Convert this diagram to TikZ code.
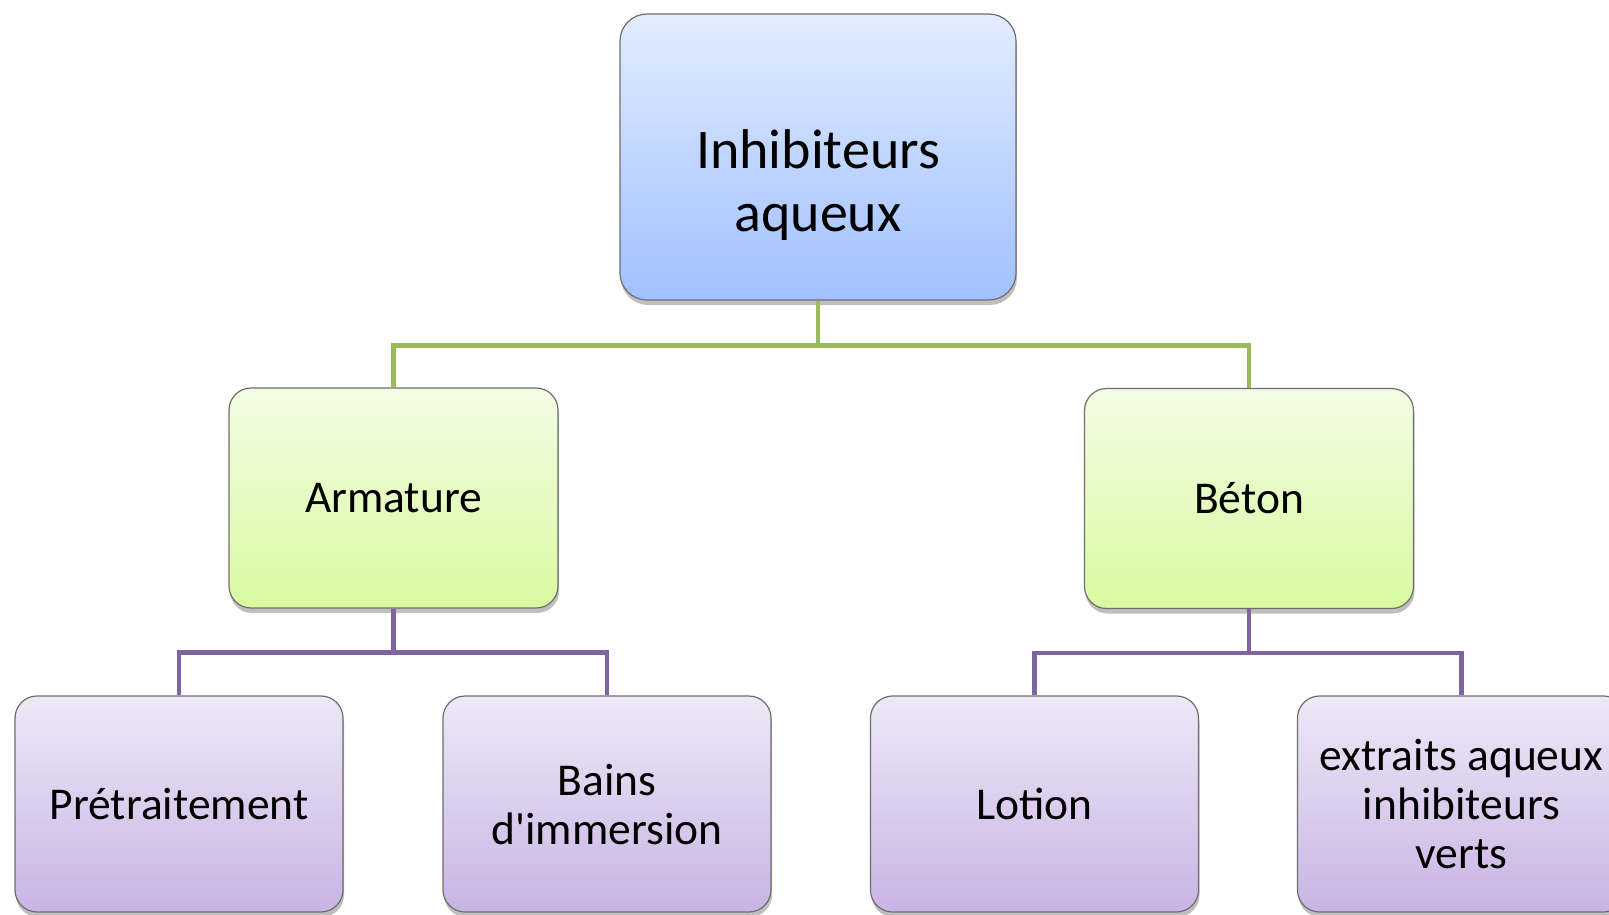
\documentclass[tikz,border=0pt]{standalone}
\usepackage{fontspec}
\setmainfont[Ligatures=TeXOff]{Carlito}
\usetikzlibrary{shadows,calc}
\definecolor{bluetop}{HTML}{E2ECFF}
\definecolor{bluebot}{HTML}{A0C0FF}
\definecolor{greentop}{HTML}{F2FCE4}
\definecolor{greenbot}{HTML}{D9FAA0}
\definecolor{purptop}{HTML}{EEE8F7}
\definecolor{purpbot}{HTML}{C8B4E4}
\definecolor{bordergray}{HTML}{6E6E6E}
\definecolor{greenln}{HTML}{9BBB59}
\definecolor{purpln}{HTML}{8064A2}
\tikzset{
  box/.style={draw=bordergray, line width=1.2pt, align=center, text=black,
    drop shadow={shadow xshift=1pt, shadow yshift=-5pt, opacity=0.25, fill=black}},
  topbox/.style={box, rounded corners=27pt, minimum width=396pt, minimum height=286pt,
    top color=bluetop, bottom color=bluebot},
  toptext/.style={align=center, text=black, inner sep=0pt, font=\fontsize{56}{63}\selectfont},
  midbox/.style={box, rounded corners=22pt, minimum width=329pt, minimum height=220pt,
    top color=greentop, bottom color=greenbot, font=\fontsize{45.5}{49}\selectfont},
  lowbox/.style={box, rounded corners=22pt, minimum width=328pt, minimum height=216pt,
    top color=purptop, bottom color=purpbot, font=\fontsize{45.5}{49}\selectfont},
  gline/.style={draw=greenln, line width=4.5pt},
  pline/.style={draw=purpln, line width=4.5pt},
}
\begin{document}
\begin{tikzpicture}[x=1pt, y=-1pt]
\useasboundingbox (0,0) rectangle (1609,914);
\clip (0,0) rectangle (1609,914);
\fill[white] (0,0) rectangle (1609,914);
\node[topbox] (top) at (818,157) {};
\node[toptext] (toplabel) at (818,185) {Inhibiteurs\\aqueux};
\node[midbox] (arm) at (393.5,498) {Armature};
\node[midbox] (bet) at (1249,498.5) {Béton};
\node[lowbox] (pre) at (179,804) {Prétraitement};
\node[lowbox] (bai) at (607,804) {Bains\\d'immersion};
\node[lowbox] (lot) at (1034.5,804) {Lotion};
\node[lowbox] (ext) at (1461.5,804) {extraits aqueux\\inhibiteurs\\verts};
\coordinate (g) at ($(top.south)+(0,45)$);
\coordinate (pa) at ($(arm.south)+(0,44)$);
\coordinate (pb) at ($(bet.south)+(0,44)$);
\draw[gline] (top.south) -- (g) -| (arm.north);
\draw[gline] (g) -| (bet.north);
\draw[pline] (arm.south) -- (pa) -| (pre.north);
\draw[pline] (pa) -| (bai.north);
\draw[pline] (bet.south) -- (pb) -| (lot.north);
\draw[pline] (pb) -| (ext.north);
\end{tikzpicture}
\end{document}
